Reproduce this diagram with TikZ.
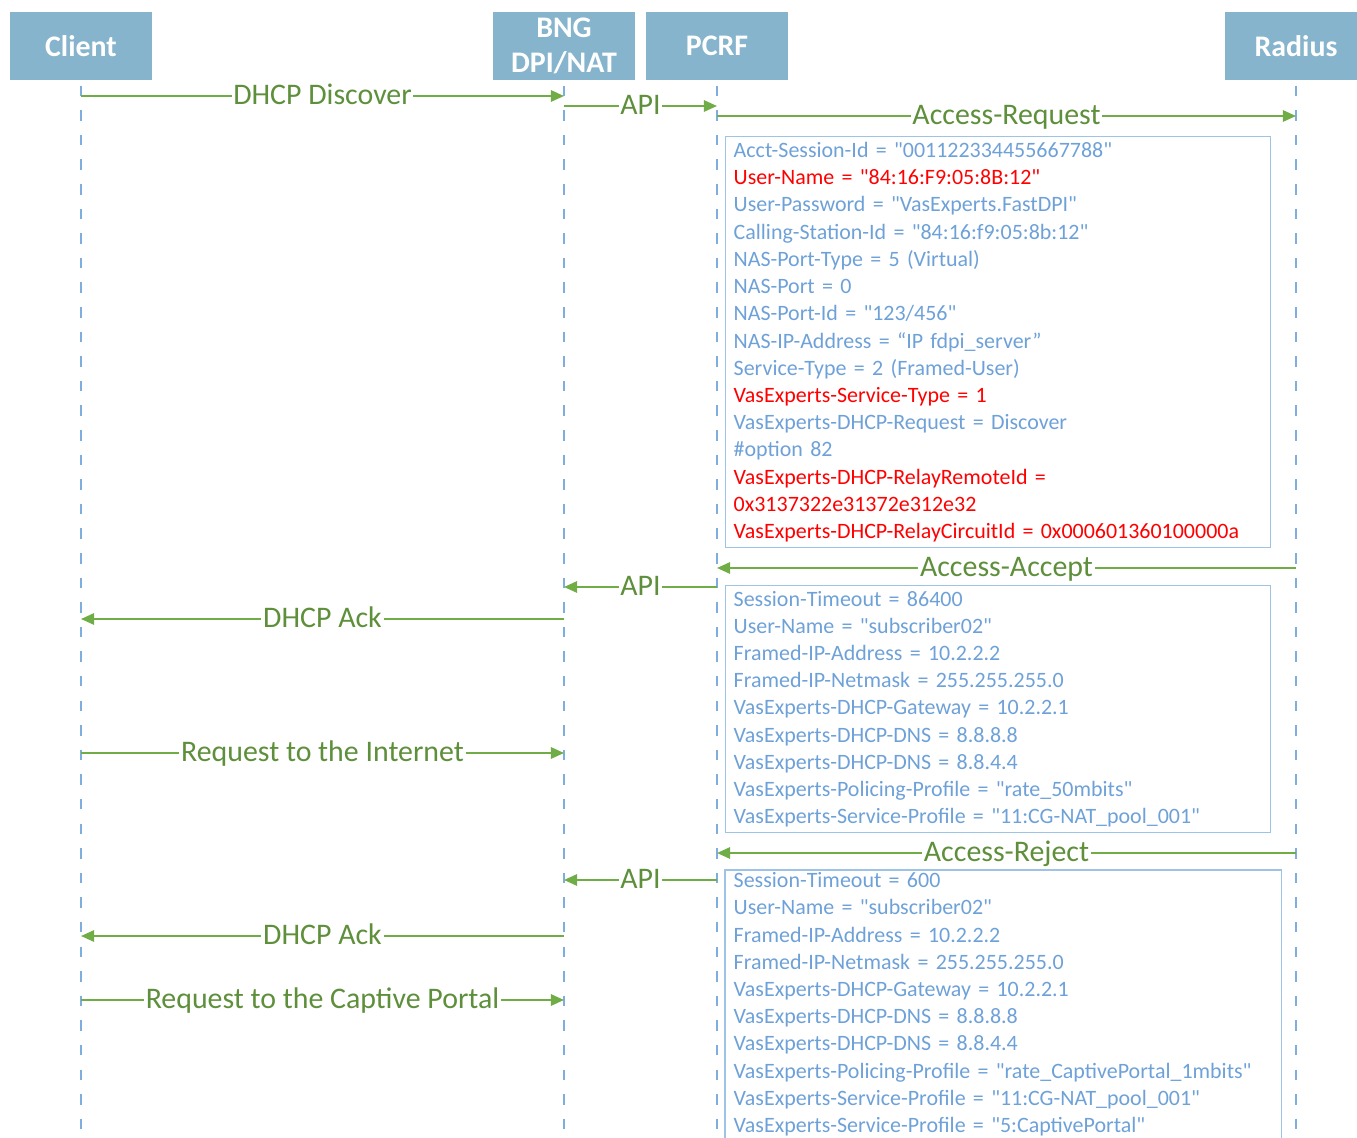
\documentclass[tikz,border=0pt]{standalone}
\usepackage{fontspec}
\setmainfont{Carlito}[Ligatures=TeXOff]
\usepackage{tikz}
\usetikzlibrary{arrows.meta, positioning}

\definecolor{hdrblue}{HTML}{86B4CC}
\definecolor{lifeblue}{HTML}{7FADDD}
\definecolor{boxblue}{HTML}{9DC3E6}
\definecolor{attrblue}{HTML}{6EA1D8}
\definecolor{msggreen}{HTML}{70AD47}
\definecolor{labelgreen}{HTML}{5E8F3B}
\definecolor{attrred}{HTML}{FF0000}

\newcommand{\hot}[1]{\textcolor{attrred}{#1}}

\begin{document}
\begin{tikzpicture}[x=0.02cm, y=-0.02cm,
    header/.style={fill=hdrblue, text=white, font=\fontsize{17}{20}\selectfont\bfseries,
      minimum width=2.84cm, minimum height=1.36cm, align=center, inner sep=0pt},
    life/.style={draw=lifeblue, line width=1.1pt, dash pattern=on 6pt off 8pt},
    msg/.style={draw=msggreen, line width=1.1pt, -{Triangle[length=7.5pt, width=6.5pt]}},
    msglabel/.style={fill=white, text=labelgreen, font=\fontsize{17}{20}\selectfont,
      inner xsep=1pt, inner ysep=1pt, anchor=base, yshift=-5pt},
    attrbox/.style={draw=boxblue, line width=0.8pt, text=attrblue,
      font=\fontsize{12.5}{15.5}\selectfont, align=left, anchor=north west,
      inner xsep=0.16cm, inner ysep=1pt}]
        \useasboundingbox (0,0) rectangle (1357,1138);
        % Participants
        \node[header] (client) at (81,46) {Client};
        \node[header] (bng) at (564,46) {BNG\\DPI/NAT};
        \node[header] (pcrf) at (717,46) {PCRF};
        \node[header] (radius) at (1296,46) {Radius};
        % Lifelines
        \foreach \n in {client, bng, pcrf, radius} {
          \draw[life] ([yshift=-3pt]\n.south) -- (\n |- 0,1140);
        }
        % Request phase
        \draw[msg] (client |- 0,96) -- node[msglabel] {DHCP Discover} (bng |- 0,96);
        \draw[msg] (bng |- 0,106) -- node[msglabel] {API} (pcrf |- 0,106);
        \draw[msg] (pcrf |- 0,116) -- node[msglabel] {Access-Request} (radius |- 0,116);
        \node[attrbox, text width=10.58cm, minimum height=8.22cm] (req) at (725,136) {%
          Acct-Session-Id = "001122334455667788"\\
          \hot{User-Name = "84:16:F9:05:8B:12"}\\
          User-Password = "VasExperts.FastDPI"\\
          Calling-Station-Id = "84:16:f9:05:8b:12"\\
          NAS-Port-Type = 5 (Virtual)\\
          NAS-Port = 0\\
          NAS-Port-Id = "123/456"\\
          NAS-IP-Address = “IP fdpi\_server”\\
          Service-Type = 2 (Framed-User)\\
          \hot{VasExperts-Service-Type = 1}\\
          VasExperts-DHCP-Request = Discover\\
          \#option 82\\
          \hot{VasExperts-DHCP-RelayRemoteId =}\\
          \hot{0x3137322e31372e312e32}\\
          \hot{VasExperts-DHCP-RelayCircuitId = 0x000601360100000a}};
        % Accept phase
        \draw[msg] (radius |- 0,568) -- node[msglabel] {Access-Accept} (pcrf |- 0,568);
        \draw[msg] (pcrf |- 0,587) -- node[msglabel] {API} (bng |- 0,587);
        \draw[msg] (bng |- 0,619) -- node[msglabel] {DHCP Ack} (client |- 0,619);
        \node[attrbox, text width=10.58cm, minimum height=4.94cm] (acc) at (725,585) {%
          Session-Timeout = 86400\\
          User-Name = "subscriber02"\\
          Framed-IP-Address = 10.2.2.2\\
          Framed-IP-Netmask = 255.255.255.0\\
          VasExperts-DHCP-Gateway = 10.2.2.1\\
          VasExperts-DHCP-DNS = 8.8.8.8\\
          VasExperts-DHCP-DNS = 8.8.4.4\\
          VasExperts-Policing-Profile = "rate\_50mbits"\\
          VasExperts-Service-Profile = "11:CG-NAT\_pool\_001"};
        \draw[msg] (client |- 0,753) -- node[msglabel] {Request to the Internet} (bng |- 0,753);
        % Reject phase
        \draw[msg] (radius |- 0,853) -- node[msglabel] {Access-Reject} (pcrf |- 0,853);
        \draw[msg] (pcrf |- 0,880) -- node[msglabel] {API} (bng |- 0,880);
        \draw[msg] (bng |- 0,936) -- node[msglabel] {DHCP Ack} (client |- 0,936);
        \draw[msg] (client |- 0,1000) -- node[msglabel] {Request to the Captive Portal} (bng |- 0,1000);
        \node[attrbox, draw=none, text width=10.78cm] (rej) at (725,870) {%
          Session-Timeout = 600\\
          User-Name = "subscriber02"\\
          Framed-IP-Address = 10.2.2.2\\
          Framed-IP-Netmask = 255.255.255.0\\
          VasExperts-DHCP-Gateway = 10.2.2.1\\
          VasExperts-DHCP-DNS = 8.8.8.8\\
          VasExperts-DHCP-DNS = 8.8.4.4\\
          VasExperts-Policing-Profile = "rate\_CaptivePortal\_1mbits"\\
          VasExperts-Service-Profile = "11:CG-NAT\_pool\_001"\\
          VasExperts-Service-Profile = "5:CaptivePortal"};
        % box runs past the bottom edge
        \draw[boxblue, line width=0.8pt] (rej.north west) rectangle ([yshift=-20pt]rej.south east);
      \end{tikzpicture}
\end{document}
